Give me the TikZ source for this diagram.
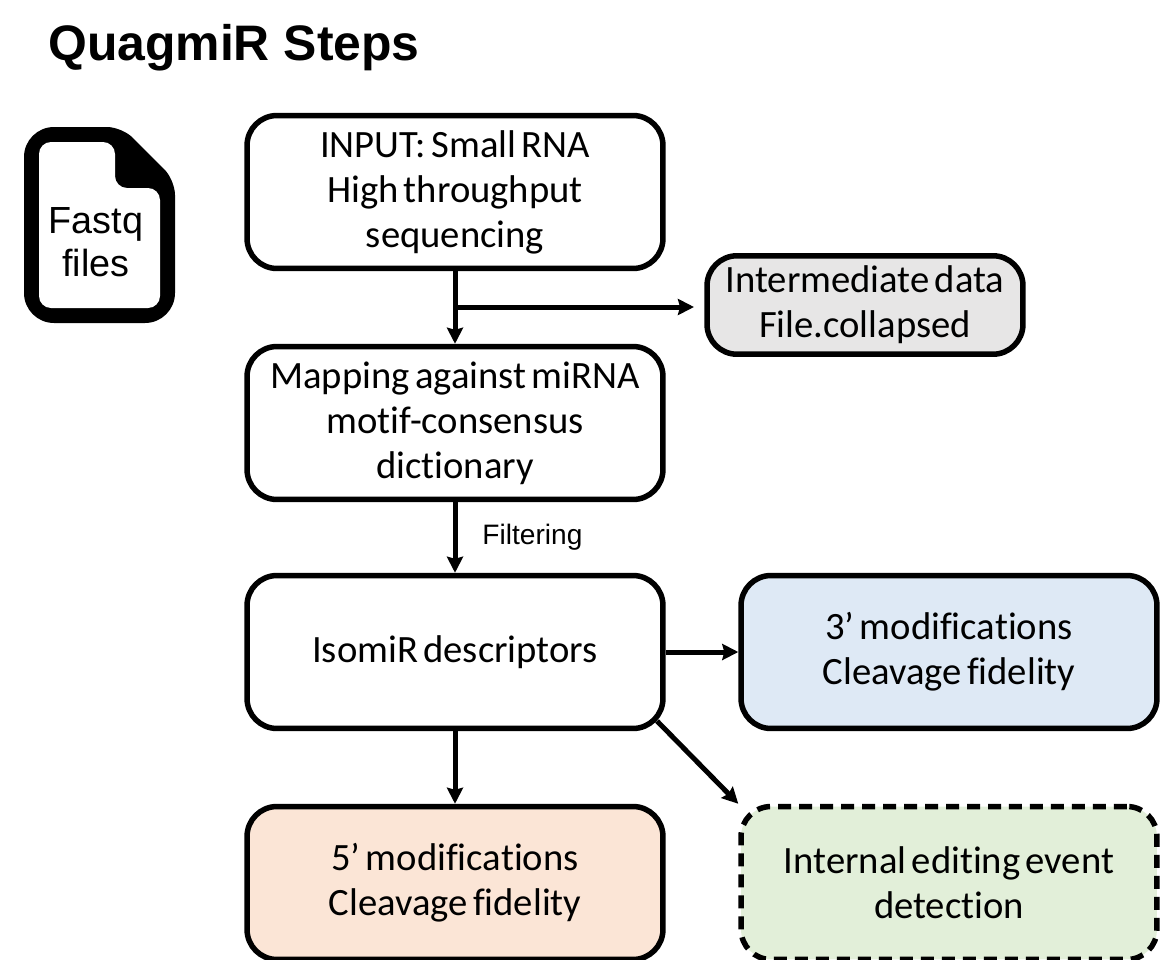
\documentclass[tikz,border=0pt]{standalone}
\usepackage{fontspec}
\setmainfont[Ligatures=NoCommon, WordSpace=0.6]{Carlito}
\newfontfamily\arialfont{Liberation Sans}
\usetikzlibrary{arrows.meta}
\definecolor{orange5p}{HTML}{FBE5D6}
\definecolor{blue3p}{HTML}{DEE9F5}
\definecolor{greenedit}{HTML}{E2EFD9}
\definecolor{graydata}{HTML}{E7E6E6}
\tikzset{
    stepbox/.style={draw, line width=0.11cm, rounded corners=0.6cm, inner sep=0pt, align=center,
        minimum width=8.32cm, minimum height=3.06cm, font=\fontsize{22}{25.6}\selectfont,
        execute at end node={\par\vspace{-0.15cm}}},
    flow/.style={line width=0.1cm, -{Stealth[length=0.32cm, width=0.32cm, inset=0.04cm]}},
}
\begin{document}
\begin{tikzpicture}[x=0.02cm, y=-0.02cm]
    \useasboundingbox (0,0) rectangle (1160,960);

    \node[anchor=west, font=\arialfont\bfseries\fontsize{28.4}{32}\selectfont] (title) at (42,48) {QuagmiR Steps};

    \fill[rounded corners=0.6cm] (24,225) -- (24,127) [rounded corners=0.3cm] -- (122,127) -- (175,180) [rounded corners=0.6cm] -- (175,323) -- (24,323) -- cycle;
    \fill[white, rounded corners=0.24cm] (39,225) -- (39,142) -- (115,142) -- (115,188) -- (160,188) -- (160,308) -- (39,308) -- cycle;
    \node[align=center, font=\arialfont\fontsize{21.5}{24.5}\selectfont] (fastq) at (96,242) {Fastq\\files};

    \node[stepbox] (input) at (455,192) {INPUT: Small RNA\\High throughput\\sequencing};
    \node[stepbox] (mapping) at (455,423) {Mapping against miRNA\\motif-consensus\\dictionary};
    \node[stepbox] (isomir) at (455,652) {IsomiR descriptors};
    \node[stepbox, fill=orange5p] (five) at (455,883) {5’ modifications\\Cleavage fidelity};
    \node[stepbox, fill=blue3p] (three) at (949,652) {3’ modifications\\Cleavage fidelity};
    \node[stepbox, fill=greenedit, dash pattern=on 0.26cm off 0.16cm] (editing) at (949,883) {Internal editing event\\detection};
    \node[stepbox, fill=graydata, minimum width=6.32cm, minimum height=1.97cm] (collapsed) at (865,305) {Intermediate data\\File.collapsed};

    \coordinate (branch) at (455,307);
    \coordinate (branchend) at (694,307);
    \coordinate (isomircorner) at (657,721);

    \draw[flow] (input) -- (mapping);
    \draw[flow] (branch) -- (branchend);
    \draw[flow] (mapping) -- node[right=0.5cm, inner sep=0pt, font=\arialfont\fontsize{16}{18}\selectfont] (filtering) {Filtering} (isomir);
    \draw[flow] (isomir) -- (five);
    \draw[flow] (isomir) -- (three);
    \draw[flow] (isomircorner) -- (editing.north west);
\end{tikzpicture}
\end{document}
